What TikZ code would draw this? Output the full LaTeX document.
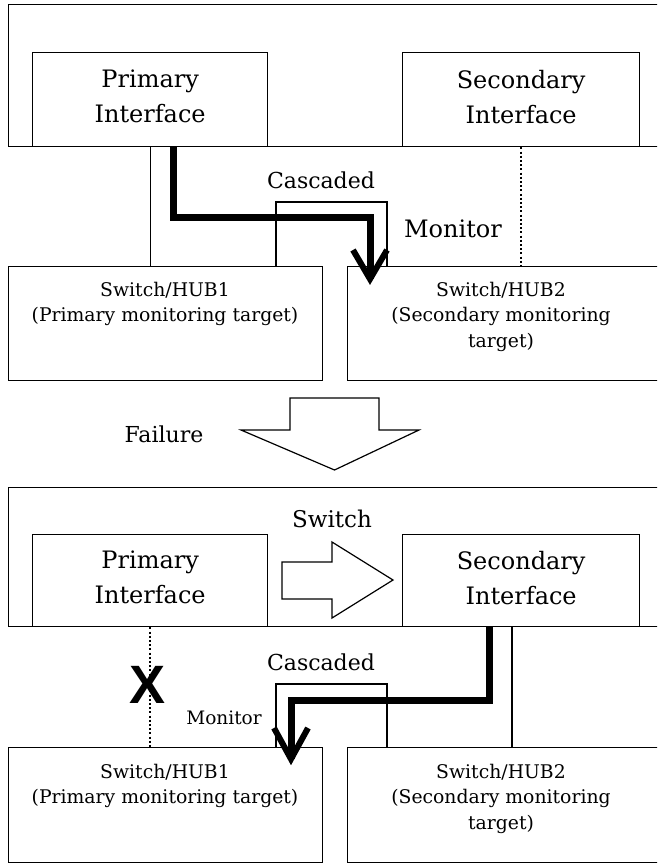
\documentclass[tikz,border=0pt]{standalone}
\usepackage{fontspec}
\setmainfont{DejaVu Serif}
\newfontfamily\xfont{Liberation Sans}
\begin{document}
\begin{tikzpicture}[x=1pt,y=-1pt,
  frame/.style={draw, line width=1.3pt, inner sep=0pt, anchor=north west},
  ibox/.style={draw, line width=1.3pt, fill=white, inner sep=0pt, anchor=north west},
  itext/.style={inner sep=0pt, align=center, font=\fontsize{24}{35}\selectfont},
  hbox/.style={draw, line width=1.3pt, inner sep=0pt, anchor=north west},
  htext/.style={align=center, font=\fontsize{18.8}{25.5}\selectfont, anchor=north, inner sep=0pt},
  conn/.style={line width=1.1pt},
  dotconn/.style={line width=1.4pt, dash pattern=on 2pt off 2.2pt},
  heavy/.style={line width=7pt, line join=miter, miter limit=10},
  headline/.style={line width=6pt, line join=miter, miter limit=10},
  hollow/.style={draw, line width=1.2pt, line join=miter, fill=white},
  lbl/.style={inner sep=0pt}]

\clip (0,0) rectangle (657,863);
\fill[white] (0,0) rectangle (657,863);

% ---------------- top section ----------------
\node[frame, minimum width=652pt, minimum height=142pt] (outA) at (8,4) {};
\node[ibox, minimum width=235pt, minimum height=94pt] (piA) at (32,52) {};
\node[ibox, minimum width=237pt, minimum height=94pt] (siA) at (402,52) {};
\node[itext] (piAt) at ([yshift=3pt]piA.center) {Primary\\Interface};
\node[itext] (siAt) at ([yshift=3pt]siA.center) {Secondary\\Interface};
\node[hbox, minimum width=314pt, minimum height=114pt] (h1A) at (8,266) {};
\node[hbox, minimum width=313pt, minimum height=114pt] (h2A) at (347,266) {};
\node[htext] (h1At) at (165,282) {Switch/HUB1\\(Primary monitoring target)};
\node[htext] (h2At) at (501,282) {Switch/HUB2\\(Secondary monitoring\\target)};

% connectors top
\draw[conn] (piA.south) -- (piA.south |- h1A.north);
\draw[dotconn] (siA.south) -- (siA.south |- h2A.north);
\coordinate (cA1) at (276,266);
\coordinate (cA2) at (387,266);
\draw[conn] (cA1) -- (276,202) -- (387,202) -- (cA2);
\coordinate (tA0) at (173,146);
\coordinate (tA1) at (370,279);
\draw[heavy] (tA0) -- (173,217) -- (370,217) -- (tA1);
\draw[headline] (353,250) -- (tA1) -- (387,250);

\node[lbl, font=\fontsize{22}{26}\selectfont] (casA) at (321,180) {Cascaded};
\node[lbl, font=\fontsize{24}{28}\selectfont] (monA) at (453,229) {Monitor};

% ---------------- failure arrow ----------------
\node[lbl, font=\fontsize{22}{26}\selectfont] (fail) at (164,434) {Failure};
\draw[hollow] (290,398) -- (379,398) -- (379,430) -- (419,430) -- (334.5,470) -- (241,430) -- (290,430) -- cycle;

% ---------------- bottom section ----------------
\node[frame, minimum width=652pt, minimum height=139pt] (outB) at (8,487) {};
\node[ibox, minimum width=235pt, minimum height=92pt] (piB) at (32,534) {};
\node[ibox, minimum width=237pt, minimum height=92pt] (siB) at (402,534) {};
\node[itext] (piBt) at ([yshift=3pt]piB.center) {Primary\\Interface};
\node[itext] (siBt) at ([yshift=3pt]siB.center) {Secondary\\Interface};
\node[hbox, minimum width=314pt, minimum height=115pt] (h1B) at (8,747) {};
\node[hbox, minimum width=313pt, minimum height=115pt] (h2B) at (347,747) {};
\node[htext] (h1Bt) at (165,764) {Switch/HUB1\\(Primary monitoring target)};
\node[htext] (h2Bt) at (501,764) {Switch/HUB2\\(Secondary monitoring\\target)};

\node[lbl, font=\fontsize{23}{27}\selectfont] (sw) at (332,519) {Switch};
\draw[hollow] (282,562) -- (332,562) -- (332,542) -- (393,580) -- (332,618) -- (332,599) -- (282,599) -- cycle;

% connectors bottom
\draw[dotconn] (piB.south) -- (piB.south |- h1B.north);
\node[lbl, font=\xfont\bfseries\fontsize{54}{54}\selectfont] (xm) at (148,685) {X};
\coordinate (sB0) at (512,626);
\draw[conn] (sB0) -- (sB0 |- h2B.north);
\coordinate (cB1) at (276,747);
\coordinate (cB2) at (387,747);
\draw[conn] (cB1) -- (276,684) -- (387,684) -- (cB2);
\coordinate (tB0) at (489,626);
\coordinate (tB1) at (291,759);
\draw[heavy] (tB0) -- (489,700) -- (291,700) -- (tB1);
\draw[headline] (274,728) -- (tB1) -- (308,728);

\node[lbl, font=\fontsize{22}{26}\selectfont] (casB) at (321,662) {Cascaded};
\node[lbl, font=\fontsize{18.5}{22}\selectfont] (monB) at (224,718) {Monitor};
\end{tikzpicture}
\end{document}
